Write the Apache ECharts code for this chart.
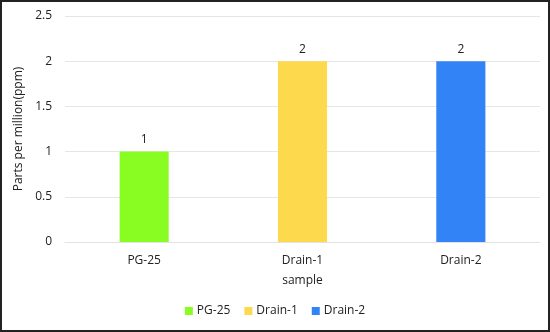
<!DOCTYPE html>
<html>
<head>
<meta charset="utf-8">
<script src="https://cdn.jsdelivr.net/npm/echarts@6/dist/echarts.min.js"></script>
<style>
  html, body { margin: 0; padding: 0; background: #fff; }
  #frame { position: absolute; left: 0; top: 0; width: 546px; height: 328px; border: 2px solid #222; background: #fff; }
  #chart { width: 546px; height: 328px; }
</style>
</head>
<body>
<div id="frame"><div id="chart"></div></div>
<script>
  // Sample names and measured concentrations (ppm)
  var categories = ['PG-25', 'Drain-1', 'Drain-2'];
  var seriesNames = ['PG-25', 'Drain-1', 'Drain-2'];
  var values = [1, 2, 2];
  var colors = ['#89FC22', '#FDD94E', '#3283F6'];
  var yTicks = { min: 0, max: 2.5, interval: 0.5 };

  var font = '"Open Sans", sans-serif';
  var fs = 12;
  var chart = echarts.init(document.getElementById('chart'));

  // One series per sample, stacked so each bar sits centered in its own category
  var series = seriesNames.map(function (name, i) {
    var data = categories.map(function (c, j) { return j === i ? values[i] : '-'; });
    return {
      name: name,
      type: 'bar',
      stack: 'samples',
      barWidth: '31%',
      data: data,
      itemStyle: { color: colors[i] },
      label: {
        show: true,
        position: 'top',
        distance: 6,
        color: '#222',
        fontFamily: font,
        fontSize: fs
      }
    };
  });

  chart.setOption({
    animation: false,
    textStyle: { fontFamily: font },
    grid: { left: 63, right: 8, top: 14, bottom: 88 },
    legend: {
      top: 298,
      left: 'center',
      itemWidth: 8,
      itemHeight: 8,
      itemGap: 14,
      icon: 'rect',
      textStyle: { color: '#222', fontSize: fs, fontFamily: font, padding: [0, 0, 0, -1] },
      data: seriesNames
    },
    xAxis: {
      type: 'category',
      data: categories,
      name: 'sample',
      nameLocation: 'middle',
      nameGap: 33,
      nameTextStyle: { color: '#222', fontSize: fs, fontFamily: font },
      axisLine: { lineStyle: { color: '#e2e2e2' } },
      axisTick: { show: false },
      axisLabel: { color: '#222', fontSize: fs, margin: 13, fontFamily: font }
    },
    yAxis: {
      type: 'value',
      min: yTicks.min,
      max: yTicks.max,
      interval: yTicks.interval,
      name: 'Parts per million(ppm)',
      nameLocation: 'middle',
      nameGap: 32,
      nameTextStyle: { color: '#222', fontSize: fs, fontFamily: font },
      axisLine: { show: false },
      axisTick: { show: false },
      axisLabel: { color: '#222', fontSize: fs, margin: 13, fontFamily: font },
      splitLine: { lineStyle: { color: '#e6e6e6' } }
    },
    series: series
  });
</script>
</body>
</html>
